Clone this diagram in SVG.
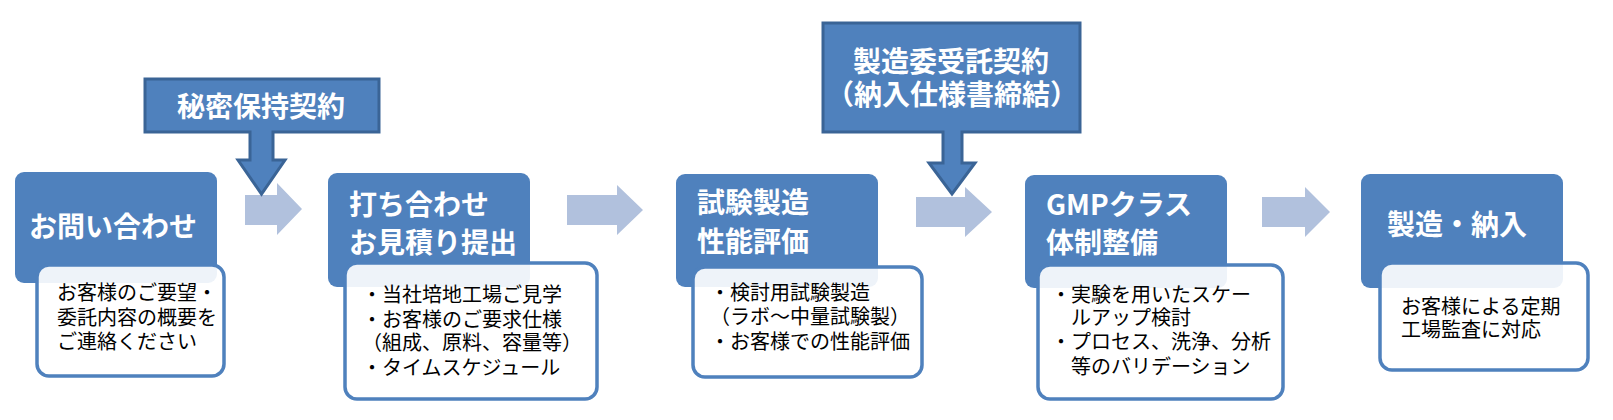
<svg xmlns="http://www.w3.org/2000/svg" width="1613" height="420" viewBox="0 0 1613 420">
<style>
.hdr{fill:#4f81bd;}
.det{fill:#ffffff;fill-opacity:0.9;stroke:#4f81bd;stroke-width:3.5;}
.call{fill:#4f81bd;stroke:#3a6496;stroke-width:3;stroke-linejoin:miter;}
.flow{fill:#b1c1dd;}
.ht{font-family:"Noto Sans CJK JP","Noto Sans",sans-serif;font-weight:bold;font-size:28px;fill:#ffffff;}
.dt{font-family:"Noto Sans CJK JP","Noto Sans",sans-serif;font-size:20px;fill:#000000;}
</style>
<rect width="1613" height="420" fill="#ffffff"/>
<g id="connectors">
<path class="flow" d="M245,195 H277 V183 L302,209 L277,235 V225 H245 Z"/>
<path class="flow" d="M567,195 H617 V185 L643,210 L617,235 V225 H567 Z"/>
<path class="flow" d="M916,197 H965 V187 L992,212 L965,237 V227 H916 Z"/>
<path class="flow" d="M1262,197 H1305 V187 L1330,212 L1305,237 V227 H1262 Z"/>
</g>
<g id="nda">
<path class="call" d="M145,79 H379 V132 H273 V160 H285 L261.5,194 L238,160 H250 V132 H145 Z"/>
<text class="ht" x="261" y="117" text-anchor="middle">秘密保持契約</text>
</g>
<g id="contract">
<path class="call" d="M823,23 H1080 V132 H962 V163 H975 L952,194 L929,163 H943 V132 H823 Z"/>
<text class="ht" x="951" y="72" text-anchor="middle">製造委受託契約</text>
<text class="ht" x="952" y="105" text-anchor="middle">（納入仕様書締結）</text>
</g>
<g id="step1">
<rect class="hdr" x="15" y="172" width="202" height="111" rx="9"/>
<rect class="det" x="37" y="265" width="187" height="111" rx="12"/>
<text class="ht" x="29" y="237">お問い合わせ</text>
<text class="dt" x="57" y="300">お客様のご要望・</text>
<text class="dt" x="57" y="325">委託内容の概要を</text>
<text class="dt" x="57" y="349">ご連絡ください</text>
</g>
<g id="step2">
<rect class="hdr" x="328" y="173" width="202" height="114" rx="9"/>
<rect class="det" x="345" y="263" width="252" height="136" rx="12"/>
<text class="ht" x="349" y="215">打ち合わせ</text>
<text class="ht" x="349" y="253">お見積り提出</text>
<text class="dt" x="362" y="302">・当社培地工場ご見学</text>
<text class="dt" x="362" y="327">・お客様のご要求仕様</text>
<text class="dt" x="362" y="350">（組成、原料、容量等）</text>
<text class="dt" x="362" y="375">・タイムスケジュール</text>
</g>
<g id="step3">
<rect class="hdr" x="676" y="174" width="202" height="113" rx="9"/>
<rect class="det" x="693" y="267" width="229" height="110" rx="12"/>
<text class="ht" x="697" y="213">試験製造</text>
<text class="ht" x="697" y="252">性能評価</text>
<text class="dt" x="710" y="300">・検討用試験製造</text>
<text class="dt" x="710" y="324">（ラボ～中量試験製）</text>
<text class="dt" x="710" y="349">・お客様での性能評価</text>
</g>
<g id="step4">
<rect class="hdr" x="1025" y="175" width="202" height="113" rx="9"/>
<rect class="det" x="1038" y="265" width="245" height="134" rx="12"/>
<text class="ht" x="1046" y="215">GMPクラス</text>
<text class="ht" x="1046" y="253">体制整備</text>
<text class="dt" x="1051" y="302">・実験を用いたスケー</text>
<text class="dt" x="1051" y="325">　ルアップ検討</text>
<text class="dt" x="1051" y="349">・プロセス、洗浄、分析</text>
<text class="dt" x="1051" y="374">　等のバリデーション</text>
</g>
<g id="step5">
<rect class="hdr" x="1361" y="174" width="202" height="114" rx="9"/>
<rect class="det" x="1380" y="263" width="208" height="107" rx="12"/>
<text class="ht" x="1387" y="235">製造・納入</text>
<text class="dt" x="1401" y="314">お客様による定期</text>
<text class="dt" x="1401" y="337">工場監査に対応</text>
</g>
</svg>
